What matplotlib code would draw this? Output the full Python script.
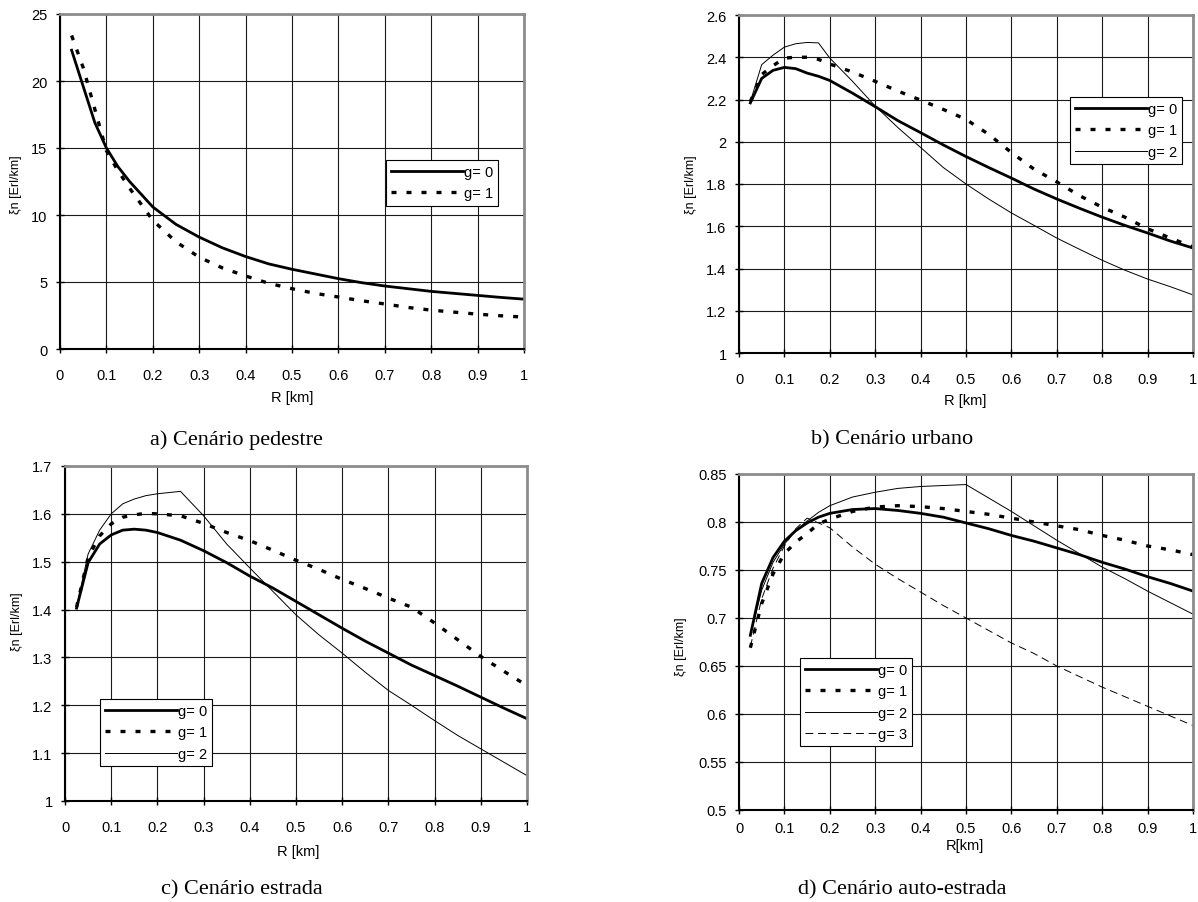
import matplotlib
matplotlib.use("Agg")
import matplotlib.pyplot as plt

plt.rcParams['font.family'] = ['Liberation Sans', 'DejaVu Sans']

W, H = 1198, 903

# --- data ---
R_A = [0.025, 0.05, 0.075, 0.1, 0.125, 0.15, 0.2, 0.25, 0.3, 0.35, 0.4, 0.45,
       0.5, 0.55, 0.6, 0.65, 0.7, 0.75, 0.8, 0.85, 0.9, 0.95, 1.0]
A_G0 = [22.3, 19.6, 16.9, 15.0, 13.6, 12.5, 10.6, 9.3, 8.35, 7.55, 6.9, 6.35,
        5.95, 5.6, 5.25, 4.95, 4.7, 4.5, 4.3, 4.15, 4.0, 3.85, 3.72]
A_G1 = [23.4, 21.0, 17.9, 14.8, 13.3, 12.0, 9.6, 8.0, 6.85, 6.05, 5.45, 4.9,
        4.5, 4.15, 3.88, 3.6, 3.36, 3.1, 2.9, 2.75, 2.6, 2.48, 2.38]

R_B = [0.025, 0.05, 0.075, 0.1, 0.125, 0.15, 0.175, 0.2, 0.25, 0.3, 0.35, 0.4,
       0.45, 0.5, 0.55, 0.6, 0.65, 0.7, 0.75, 0.8, 0.85, 0.9, 0.95, 1.0]
B_G0 = [2.184, 2.30, 2.338, 2.352, 2.346, 2.325, 2.31, 2.29, 2.23, 2.166, 2.10, 2.043,
        1.985, 1.93, 1.878, 1.828, 1.776, 1.729, 1.685, 1.643, 1.604, 1.568, 1.53, 1.497]
B_G1 = [2.19, 2.318, 2.36, 2.396, 2.40, 2.40, 2.39, 2.368, 2.33, 2.286, 2.24, 2.197,
        2.153, 2.106, 2.035, 1.949, 1.87, 1.81, 1.745, 1.69, 1.643, 1.588, 1.544, 1.502]
B_G2 = [2.19, 2.365, 2.41, 2.448, 2.464, 2.47, 2.468, 2.396, 2.286, 2.169, 2.067, 1.973,
        1.878, 1.80, 1.729, 1.663, 1.604, 1.544, 1.491, 1.439, 1.392, 1.35, 1.314, 1.275]

R_C = [0.025, 0.05, 0.075, 0.1, 0.125, 0.15, 0.175, 0.2, 0.25, 0.3, 0.35, 0.4,
       0.45, 0.5, 0.55, 0.6, 0.65, 0.7, 0.75, 0.8, 0.85, 0.9, 0.95, 1.0]
C_G0 = [1.403, 1.498, 1.537, 1.556, 1.566, 1.568, 1.566, 1.561, 1.545, 1.523, 1.498, 1.47,
        1.445, 1.417, 1.389, 1.361, 1.334, 1.309, 1.284, 1.262, 1.24, 1.217, 1.194, 1.172]
C_G1 = [1.405, 1.509, 1.554, 1.579, 1.593, 1.598, 1.601, 1.60, 1.596, 1.58, 1.561, 1.544,
        1.524, 1.503, 1.484, 1.463, 1.444, 1.424, 1.405, 1.372, 1.337, 1.302, 1.271, 1.241]
C_G2 = [1.405, 1.516, 1.566, 1.60, 1.621, 1.631, 1.638, 1.642, 1.647, 1.596, 1.537, 1.487,
        1.438, 1.389, 1.347, 1.309, 1.269, 1.231, 1.20, 1.168, 1.137, 1.109, 1.081, 1.053]

R_D = [0.025, 0.05, 0.075, 0.1, 0.125, 0.15, 0.175, 0.2, 0.25, 0.3, 0.35, 0.4,
       0.45, 0.5, 0.55, 0.6, 0.65, 0.7, 0.75, 0.8, 0.85, 0.9, 0.95, 1.0]
D_G0 = [0.682, 0.736, 0.763, 0.78, 0.791, 0.799, 0.805, 0.809, 0.813, 0.814, 0.812, 0.809,
        0.805, 0.799, 0.793, 0.786, 0.78, 0.773, 0.766, 0.758, 0.751, 0.743, 0.736, 0.728]
D_G1 = [0.669, 0.715, 0.746, 0.767, 0.779, 0.788, 0.798, 0.803, 0.811, 0.8156, 0.817, 0.816,
        0.814, 0.811, 0.808, 0.804, 0.80, 0.796, 0.792, 0.786, 0.781, 0.775, 0.771, 0.766]
D_G2 = [0.682, 0.729, 0.758, 0.777, 0.791, 0.801, 0.81, 0.817, 0.826, 0.831, 0.835, 0.837,
        0.838, 0.839, 0.825, 0.811, 0.796, 0.781, 0.767, 0.753, 0.741, 0.728, 0.716, 0.704]
D_G3 = [0.67, 0.72, 0.752, 0.775, 0.793, 0.804, 0.799, 0.794, 0.774, 0.756, 0.741, 0.727,
        0.713, 0.70, 0.687, 0.674, 0.663, 0.65, 0.639, 0.628, 0.618, 0.608, 0.598, 0.588]

X_TICKS = [0, 0.1, 0.2, 0.3, 0.4, 0.5, 0.6, 0.7, 0.8, 0.9, 1.0]
X_LABELS = ['0', '0.1', '0.2', '0.3', '0.4', '0.5', '0.6', '0.7', '0.8', '0.9', '1']

A_YTICKS = [0, 5, 10, 15, 20, 25]
A_YLABELS = ['0', '5', '10', '15', '20', '25']
B_YTICKS = [1, 1.2, 1.4, 1.6, 1.8, 2, 2.2, 2.4, 2.6]
B_YLABELS = ['1', '1.2', '1.4', '1.6', '1.8', '2', '2.2', '2.4', '2.6']
C_YTICKS = [1, 1.1, 1.2, 1.3, 1.4, 1.5, 1.6, 1.7]
C_YLABELS = ['1', '1.1', '1.2', '1.3', '1.4', '1.5', '1.6', '1.7']
D_YTICKS = [0.5, 0.55, 0.6, 0.65, 0.7, 0.75, 0.8, 0.85]
D_YLABELS = ['0.5', '0.55', '0.6', '0.65', '0.7', '0.75', '0.8', '0.85']

LABELS = ['g= 0', 'g= 1', 'g= 2', 'g= 3']
STYLES = [
    dict(color='black', lw=2.0),
    dict(color='black', lw=2.4, ls=(0, (1.5, 3)), dash_capstyle='butt'),
    dict(color='black', lw=0.7),
    dict(color='black', lw=0.7, ls=(0, (8, 5))),
]


def fx(px):
    return px / W


def fy(py):
    return 1 - py / H


def panel(box, x, series, yticks, ylabels, xlabel, xlab_pos, ylab_pos,
          leg_pos, caption, cap_pos, xpad=11):
    left, top, right, bottom = box
    ax = fig.add_axes([fx(left), fy(bottom), fx(right - left), (bottom - top) / H])
    for i, ys in enumerate(series):
        ax.plot(x, ys, label=LABELS[i], **STYLES[i])
    ax.set_xlim(0, 1)
    ax.set_ylim(yticks[0], yticks[-1])
    ax.set_xticks(X_TICKS)
    ax.set_xticklabels(X_LABELS)
    ax.set_yticks(yticks)
    ax.set_yticklabels(ylabels)
    ax.grid(True, color='#1a1a1a', lw=0.8)
    ax.set_axisbelow(True)
    ax.tick_params(direction='inout', length=6, width=1, labelsize=10.5,
                   color='black')
    ax.tick_params(axis='x', pad=xpad)
    ax.tick_params(axis='y', pad=6)
    for s in ('top', 'right'):
        ax.spines[s].set_color('#8c8c8c')
        ax.spines[s].set_linewidth(2.0)
    for s in ('left', 'bottom'):
        ax.spines[s].set_color('black')
        ax.spines[s].set_linewidth(1.5)
    fig.text(fx(xlab_pos[0]), fy(xlab_pos[1]), xlabel, fontsize=10.5,
             ha='center', va='center')
    fig.text(fx(ylab_pos[0]), fy(ylab_pos[1]), 'ξn [Erl/km]', fontsize=9,
             rotation=90, ha='center', va='center')
    leg = ax.legend(loc='upper left', bbox_to_anchor=(fx(leg_pos[0]), fy(leg_pos[1])),
                    bbox_transform=fig.transFigure, fontsize=10.5, handlelength=4.9,
                    handletextpad=0.1, borderpad=0.35, labelspacing=0.5,
                    borderaxespad=0, fancybox=False, framealpha=1,
                    edgecolor='black')
    leg.get_frame().set_linewidth(0.8)
    fig.text(fx(cap_pos[0]), fy(cap_pos[1]), caption, fontsize=16,
             family='Liberation Serif', ha='center', va='center')
    return ax


fig = plt.figure(figsize=(W / 100, H / 100), dpi=100)

panel((60, 15, 524, 350), R_A, [A_G0, A_G1], A_YTICKS, A_YLABELS, 'R [km]',
      (292, 398), (16, 185), (386, 161), 'a) Cenário pedestre', (236, 440))
panel((739, 16, 1193, 354), R_B, [B_G0, B_G1, B_G2], B_YTICKS, B_YLABELS, 'R [km]',
      (965, 401), (691, 185), (1070, 98), 'b) Cenário urbano', (892, 440))
panel((65, 467, 527, 802), R_C, [C_G0, C_G1, C_G2], C_YTICKS, C_YLABELS, 'R [km]',
      (298, 852), (17, 622), (100, 700), 'c) Cenário estrada', (242, 890))
panel((739, 475, 1193, 811), R_D, [D_G0, D_G1, D_G2, D_G3], D_YTICKS, D_YLABELS, 'R[km]',
      (965, 846), (681, 647), (800, 659), 'd) Cenário auto-estrada', (902, 890),
      xpad=5)

fig.savefig('out.png', dpi=100)
